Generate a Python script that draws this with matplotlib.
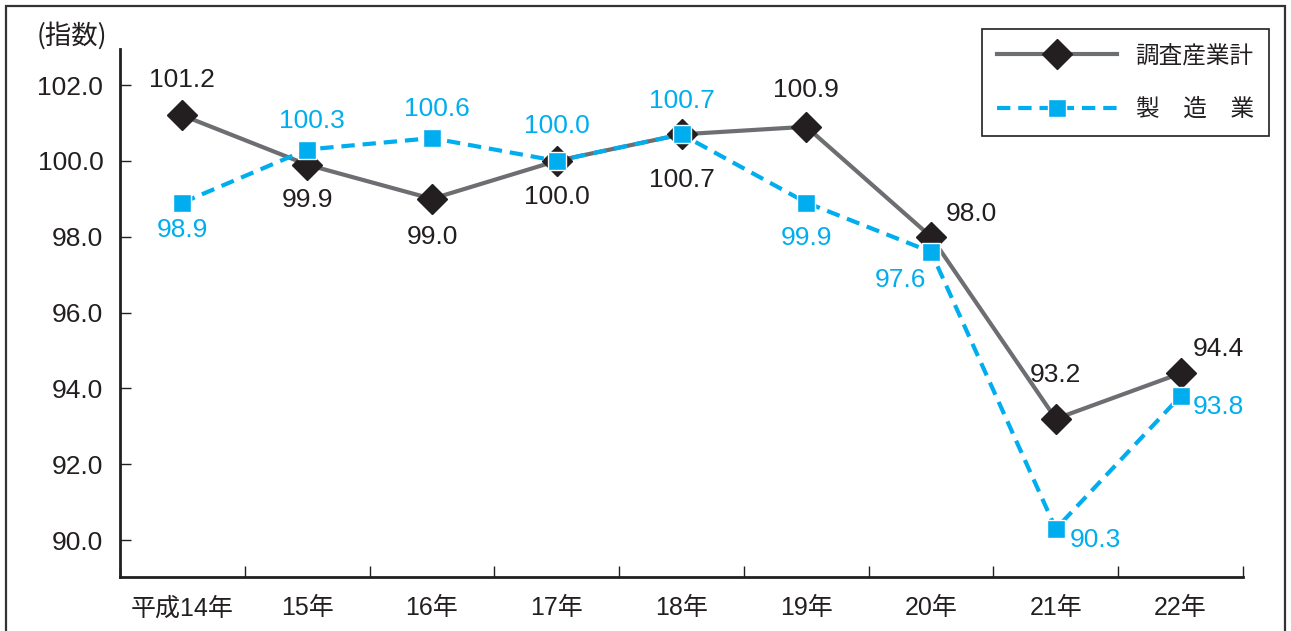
import matplotlib
matplotlib.use("Agg")
import matplotlib.pyplot as plt
from matplotlib.lines import Line2D
from matplotlib.patches import Rectangle

plt.rcParams['font.family'] = ['Liberation Sans', 'Noto Sans CJK JP', 'DejaVu Sans']

categories = ['平成14年', '15年', '16年', '17年', '18年', '19年', '20年', '21年', '22年']
survey_total = [101.2, 99.9, 99.0, 100.0, 100.7, 100.9, 98.0, 93.2, 94.4]
manufacturing = [98.9, 100.3, 100.6, 100.0, 100.7, 98.9, 97.6, 90.3, 93.8]
manufacturing_labels = ['98.9', '100.3', '100.6', '100.0', '100.7', '99.9', '97.6', '90.3', '93.8']
yticks = [90.0, 92.0, 94.0, 96.0, 98.0, 100.0, 102.0]
series_names = ['調査産業計', '製\u3000造\u3000業']

DARK = '#231f20'
GRAY = '#6d6e71'
BLUE = '#00aeef'
DASH = (0, (3.2, 1.9))

W, H = 1291, 631
fig = plt.figure(figsize=(W / 100, H / 100), dpi=100)
ax = fig.add_axes([120 / W, 1 - 577 / H, (1243 - 120) / W, (577 - 49) / H])

x = list(range(len(categories)))
ax.plot(x, survey_total, color=GRAY, lw=3, marker='D', ms=15, mfc=DARK, mec=DARK,
        zorder=3, solid_capstyle='butt')
ax.plot(x, manufacturing, color=BLUE, lw=3, ls=DASH, marker='s', ms=13,
        mfc=BLUE, mec='white', mew=1, zorder=4)

ax.set_xlim(-0.5, len(categories) - 0.5)
ax.set_ylim(89.03, 102.95)

for s in ['top', 'right']:
    ax.spines[s].set_visible(False)
for s in ['left', 'bottom']:
    ax.spines[s].set_linewidth(2)
    ax.spines[s].set_color(DARK)

ax.set_yticks(yticks)
ax.set_yticklabels([f'{v:.1f}' for v in yticks])
ax.tick_params(axis='y', direction='in', length=8, width=1, color=DARK, pad=12,
               labelsize=19, labelcolor=DARK)
ax.set_xticks(x)
ax.set_xticklabels(categories)
ax.tick_params(axis='x', which='major', length=0, pad=14, labelsize=18, labelcolor=DARK)
ax.set_xticks([i - 0.5 for i in range(len(categories) + 1)], minor=True)
ax.tick_params(axis='x', which='minor', direction='in', length=8, width=1, color=DARK)

def px(v):
    return v * 0.72

s1_off = [(0, 35), (0, -35), (0, -38), (0, -36), (0, -46), (0, 37), (40, 23), (0, 44), (38, 24)]
s2_off = [(0, -27), (5, 29), (5, 29), (0, 35), (0, 33), (0, -35), (-31, -28), (40, -11), (38, -11)]

for i, v in enumerate(survey_total):
    dx, dy = s1_off[i]
    ax.annotate(f'{v:.1f}', (x[i], v), xytext=(px(dx), px(dy)), textcoords='offset points',
                ha='center', va='center', fontsize=19, color=DARK, zorder=6)
for i, v in enumerate(manufacturing):
    dx, dy = s2_off[i]
    ax.annotate(manufacturing_labels[i], (x[i], v), xytext=(px(dx), px(dy)),
                textcoords='offset points', ha='center', va='center', fontsize=19,
                color=BLUE, zorder=6)

fig.text(37 / W, 1 - 36 / H, '(指数)', ha='left', va='center', fontsize=19, color=DARK,
         family=['Noto Sans CJK JP'])
# outer frame
fig.patches.append(Rectangle((6 / W, -0.1), (1285 - 6) / W, 1.1 - 6 / H, transform=fig.transFigure,
                             fill=False, edgecolor='#333333', lw=1.6))

handles = [
    Line2D([], [], color=GRAY, lw=3, marker='D', ms=15, mfc=DARK, mec=DARK),
    Line2D([], [], color=BLUE, lw=3, ls=DASH, marker='s', ms=13, mfc=BLUE,
           mec='white', mew=1),
]
leg = fig.legend(handles, series_names, loc='upper right',
                 bbox_to_anchor=(1269 / W, 1 - 29 / H), bbox_transform=fig.transFigure,
                 frameon=True, fancybox=False, edgecolor=DARK, framealpha=1,
                 prop={'family': ['Noto Sans CJK JP'], 'size': 17},
                 handlelength=5.05, handletextpad=0.8, borderpad=0.65, labelspacing=1.3,
                 borderaxespad=0)
leg.get_frame().set_linewidth(1.2)
for t in leg.get_texts():
    t.set_color(DARK)

fig.savefig('out.png', dpi=100)
